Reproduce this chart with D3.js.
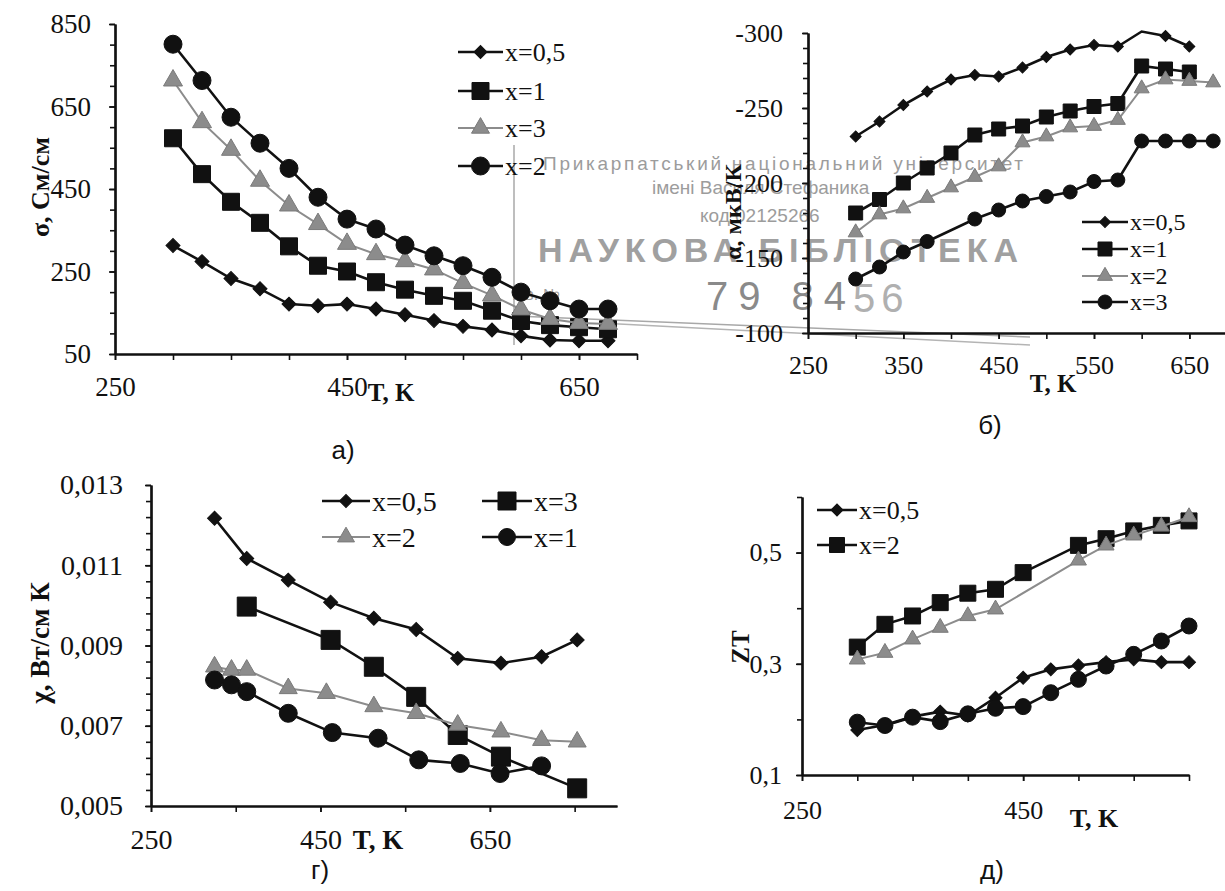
<!DOCTYPE html>
<html>
<head>
<meta charset="utf-8">
<script src="https://cdn.jsdelivr.net/npm/d3@7"></script>
<style>
	body { margin: 0; background: #fff; }
</style>
</head>
<body>
<script>
var w = 1225, h = 891;
var ink = "#111", grey = "#8c8c8c";
var serif = "'Liberation Serif', 'DejaVu Serif', serif";
var sans = "'Liberation Sans', 'DejaVu Sans', sans-serif";

// а) electrical conductivity, См/см
var Ta = [300, 325, 350, 375, 400, 425, 450, 475, 500, 525, 550, 575, 600, 625, 650, 675];
var sigmaX05 = [313, 274, 233, 208, 171, 167, 171, 159, 145, 131, 117, 108, 94, 84, 82, 82];
var sigmaX1 = [573, 486, 419, 368, 311, 264, 250, 224, 206, 191, 179, 155, 130, 120, 115, 110];
var sigmaX3 = [713, 612, 545, 470, 410, 365, 317, 292, 275, 255, 222, 192, 158, 135, 125, 123];
var sigmaX2 = [801, 713, 624, 561, 500, 430, 377, 353, 314, 288, 264, 236, 200, 179, 159, 159];
var aTicksY = [50, 250, 450, 650, 850];
var aTicksX = [250, 450, 650];

// б) Seebeck coefficient, мкВ/К
var Tb = [300, 325, 350, 375, 400, 425, 450, 475, 500, 525, 550, 575, 600, 625, 650];
var alphaX05 = [-231, -241, -252, -261, -269, -272, -271, -277, -284, -289, -292, -291, -301, -298, -291];
var alphaX1 = [-180, -189, -200, -210, -220, -232, -236, -238, -244, -248, -251, -253, -278, -276, -274];
var TbX2 = [300, 325, 350, 375, 400, 425, 450, 475, 500, 525, 550, 575, 600, 625, 650, 675];
var alphaX2 = [-167, -179, -183, -190, -197, -204, -211, -227, -231, -237, -238, -242, -263, -269, -268, -267];
var TbX3 = [300, 325, 350, 375, 425, 450, 475, 500, 525, 550, 575, 600, 625, 650, 675];
var alphaX3 = [-136, -144, -154, -161, -176, -182, -188, -191, -194, -201, -202, -228, -228, -228, -228];
var bTicksY = [-300, -250, -200, -150, -100];
var bTicksX = [250, 350, 450, 550, 650];

// г) thermal conductivity, Вт/см К
var TgX05 = [325, 363, 412, 462, 513, 563, 612, 663, 711, 753];
var chiX05 = [0.01217, 0.01117, 0.01063, 0.01008, 0.00968, 0.0094, 0.00868, 0.00856, 0.00872, 0.00914];
var TgX3 = [363, 462, 513, 563, 612, 663, 753];
var chiX3 = [0.00997, 0.00914, 0.00847, 0.00772, 0.00677, 0.00623, 0.00544];
var TgX2 = [325, 345, 363, 412, 457, 513, 563, 612, 663, 711, 753];
var chiX2 = [0.00847, 0.00839, 0.00839, 0.00793, 0.00781, 0.00748, 0.00731, 0.00702, 0.00685, 0.00664, 0.0066];
var TgX1 = [325, 345, 363, 412, 464, 518, 566, 615, 662, 711];
var chiX1 = [0.00814, 0.00802, 0.00785, 0.00731, 0.00683, 0.00669, 0.00615, 0.00606, 0.00581, 0.006];
var gTicksY = [0.005, 0.007, 0.009, 0.011, 0.013];
var gTicksX = [250, 450, 650];

// д) figure of merit ZT
var Td = [300, 325, 350, 375, 400, 425, 450, 475, 500, 525, 550, 575, 600];
var ztX05 = [0.181, 0.19, 0.205, 0.214, 0.207, 0.239, 0.275, 0.29, 0.297, 0.303, 0.308, 0.303, 0.303];
var ztCirc = [0.195, 0.189, 0.204, 0.196, 0.21, 0.22, 0.223, 0.248, 0.272, 0.296, 0.317, 0.341, 0.368];
var TdX2 = [300, 325, 350, 375, 400, 425, 450, 500, 525, 550, 575, 600];
var ztX2 = [0.33, 0.371, 0.386, 0.41, 0.427, 0.434, 0.464, 0.513, 0.525, 0.539, 0.549, 0.557];
var TdTri = [300, 325, 350, 375, 400, 425, 500, 525, 550, 575, 600];
var ztTri = [0.308, 0.32, 0.344, 0.365, 0.386, 0.398, 0.486, 0.513, 0.531, 0.547, 0.564];
var dTicksY = [0.1, 0.3, 0.5];
var dTicksX = [250, 450];

var svg = d3.select("body")
		.append("svg")
		.attr("width", w)
		.attr("height", h);

svg.append("rect")
	.attr("width", w)
	.attr("height", h)
	.attr("fill", "#fff");

function markerPath(shape, s) {
	if (shape == "diamond")
		return d3.symbol(d3.symbolSquare, s * s / 2)();
	if (shape == "square")
		return d3.symbol(d3.symbolSquare, s * s)();
	if (shape == "triangle")
		return d3.symbol(d3.symbolTriangle, Math.sqrt(3) / 4 * s * s)();
	return d3.symbol(d3.symbolCircle, Math.PI * s * s / 4)();
}

function series(g, x, y, T, v, shape, s, col) {
	var pts = T.map(function(t, i) { return [t, v[i]]; });
	var lw = col == grey ? 2 : 2.6;
	g.append("path")
		.datum(pts)
		.attr("fill", "none")
		.attr("stroke", col)
		.attr("stroke-width", lw)
		.attr("d", d3.line().x(function(d) { return x(d[0]); }).y(function(d) { return y(d[1]); }));
	var dom = y.domain();
	var lo = Math.min(dom[0], dom[1]), hi = Math.max(dom[0], dom[1]);
	g.selectAll(null)
		.data(pts.filter(function(d) { return d[1] >= lo && d[1] <= hi; }))
		.enter()
		.append("path")
		.attr("d", markerPath(shape, s))
		.attr("transform", function(d) {
			return "translate(" + x(d[0]) + "," + y(d[1]) + ")" + (shape == "diamond" ? " rotate(45)" : "");
		})
		.attr("fill", col)
		.attr("stroke", col == grey ? "#7a7a7a" : ink)
		.attr("stroke-width", 1);
}

function legendItem(g, x1, x2, yy, shape, s, col, label, fs) {
	g.append("line")
		.attr("x1", x1).attr("x2", x2)
		.attr("y1", yy).attr("y2", yy)
		.attr("stroke", col)
		.attr("stroke-width", col == grey ? 2 : 2.6);
	g.append("path")
		.attr("d", markerPath(shape, s))
		.attr("transform", "translate(" + (x1 + x2) / 2 + "," + yy + ")" + (shape == "diamond" ? " rotate(45)" : ""))
		.attr("fill", col)
		.attr("stroke", col == grey ? "#7a7a7a" : ink);
	g.append("text")
		.attr("x", x2 + 2)
		.attr("y", yy)
		.attr("dy", "0.35em")
		.style("font-family", serif)
		.attr("font-size", fs)
		.attr("fill", ink)
		.text(label);
}

function axes(g, x, y, labY, minorY, labX, minorX, fmt, padY, padX, fs) {
	var x0 = x.range()[0], y0 = y.range()[0];
	g.append("g")
		.attr("transform", "translate(" + x0 + ",0)")
		.call(d3.axisLeft(y).tickValues(minorY).tickSize(5).tickSizeOuter(0).tickFormat(""));
	g.append("g")
		.attr("transform", "translate(" + x0 + ",0)")
		.call(d3.axisLeft(y).tickValues(labY).tickSize(6).tickSizeOuter(0).tickPadding(padY).tickFormat(fmt));
	g.append("g")
		.attr("transform", "translate(0," + y0 + ")")
		.call(d3.axisBottom(x).tickValues(minorX).tickSize(6).tickSizeOuter(0).tickFormat(""));
	g.append("g")
		.attr("transform", "translate(0," + y0 + ")")
		.call(d3.axisBottom(x).tickValues(labX).tickSize(6).tickSizeOuter(0).tickPadding(padX).tickFormat(d3.format("d")));
	g.selectAll(".domain").attr("stroke", ink).attr("stroke-width", 2.2);
	g.selectAll(".tick line").attr("stroke", ink).attr("stroke-width", 1.6);
	g.selectAll(".tick text")
		.attr("fill", ink)
		.attr("font-size", fs)
		.style("font-family", serif);
}

function title(g, tx, ty, rot, label, fs, bold) {
	g.append("text")
		.attr("transform", "translate(" + tx + "," + ty + ")" + (rot ? " rotate(-90)" : ""))
		.attr("text-anchor", "middle")
		.attr("dy", "0.35em")
		.style("font-family", serif)
		.attr("font-size", fs)
		.attr("font-weight", bold ? "bold" : "normal")
		.attr("fill", ink)
		.text(label);
}

function caption(tx, ty, label) {
	svg.append("text")
		.attr("x", tx)
		.attr("y", ty)
		.attr("text-anchor", "middle")
		.attr("dy", "0.35em")
		.attr("font-size", 26)
		.style("font-family", sans)
		.attr("fill", ink)
		.text(label);
}

var plain = function(d) { return String(d); };
var comma3 = function(d) { return d3.format(".3f")(d).replace(".", ","); };
var comma1 = function(d) { return d3.format(".1f")(d).replace(".", ","); };

function drawA() {
	var g = svg.append("g");
	var x = d3.scaleLinear().domain([250, 700]).range([115, 637]);
	var y = d3.scaleLinear().domain([50, 850]).range([354, 24]);
	axes(g, x, y, aTicksY, d3.range(50, 851, 50), aTicksX, d3.range(250, 701, 50), plain, 18, 17, 27);
	series(g, x, y, Ta, sigmaX05, "diamond", 14, ink);
	series(g, x, y, Ta, sigmaX1, "square", 17, ink);
	series(g, x, y, Ta, sigmaX3, "triangle", 19, grey);
	series(g, x, y, Ta, sigmaX2, "circle", 18, ink);
	legendItem(g, 458, 503, 52, "diamond", 13, ink, "x=0,5", 26);
	legendItem(g, 458, 503, 91, "square", 17, ink, "x=1", 26);
	legendItem(g, 458, 503, 128, "triangle", 18, grey, "x=3", 26);
	legendItem(g, 458, 503, 166, "circle", 18, ink, "x=2", 26);
	title(g, 40, 187, true, "σ, См/см", 26, true);
	title(g, 391, 392, false, "T, K", 25, true);
	caption(343, 450, "а)");
}

function drawB() {
	var g = svg.append("g");
	var x = d3.scaleLinear().domain([250, 700]).range([808, 1237]);
	var y = d3.scaleLinear().domain([-100, -300]).range([333, 33]);
	axes(g, x, y, bTicksY, d3.range(-300, -99, 10), bTicksX, d3.range(250, 701, 50), plain, 19, 17, 26);
	series(g, x, y, Tb, alphaX05, "diamond", 11, ink);
	series(g, x, y, Tb, alphaX1, "square", 14, ink);
	series(g, x, y, TbX2, alphaX2, "triangle", 15, grey);
	series(g, x, y, TbX3, alphaX3, "circle", 14, ink);
	legendItem(g, 1082, 1128, 222, "diamond", 11, ink, "x=0,5", 24);
	legendItem(g, 1082, 1128, 249, "square", 14, ink, "x=1", 24);
	legendItem(g, 1082, 1128, 276, "triangle", 15, grey, "x=2", 24);
	legendItem(g, 1082, 1128, 302, "circle", 14, ink, "x=3", 24);
	title(g, 733, 212, true, "α, мкВ/К", 24, true);
	title(g, 1053, 383, false, "T, K", 25, true);
	caption(990, 425, "б)");
}

function drawG() {
	var g = svg.append("g");
	var x = d3.scaleLinear().domain([250, 800]).range([151, 617]);
	var y = d3.scaleLinear().domain([0.005, 0.013]).range([806, 485]);
	axes(g, x, y, gTicksY, d3.range(0, 21).map(function(i) { return 0.005 + i * 0.0004; }), gTicksX, d3.range(250, 801, 100), comma3, 22, 17, 28);
	series(g, x, y, TgX05, chiX05, "diamond", 14, ink);
	series(g, x, y, TgX3, chiX3, "square", 19, ink);
	series(g, x, y, TgX2, chiX2, "triangle", 18, grey);
	series(g, x, y, TgX1, chiX1, "circle", 18, ink);
	legendItem(g, 322, 370, 501, "diamond", 13, ink, "x=0,5", 28);
	legendItem(g, 482, 532, 501, "square", 18, ink, "x=3", 28);
	legendItem(g, 322, 370, 537, "triangle", 17, grey, "x=2", 28);
	legendItem(g, 482, 532, 537, "circle", 17, ink, "x=1", 28);
	title(g, 40, 643, true, "χ, Вт/см К", 27, true);
	title(g, 378, 840, false, "T, K", 27, true);
	caption(320, 870, "г)");
}

function drawD() {
	var g = svg.append("g");
	var x = d3.scaleLinear().domain([250, 600]).range([802, 1189]);
	var y = d3.scaleLinear().domain([0.1, 0.6]).range([775, 497]);
	axes(g, x, y, dTicksY, [0.1, 0.2, 0.3, 0.4, 0.5, 0.6], dTicksX, d3.range(250, 601, 50), comma1, 14, 20, 26);
	series(g, x, y, Td, ztX05, "diamond", 13, ink);
	series(g, x, y, TdX2, ztX2, "square", 16, ink);
	series(g, x, y, TdTri, ztTri, "triangle", 16, grey);
	series(g, x, y, Td, ztCirc, "circle", 16, ink);
	legendItem(g, 817, 857, 510, "diamond", 12, ink, "x=0,5", 26);
	legendItem(g, 817, 857, 545, "square", 15, ink, "x=2", 26);
	title(g, 740, 647, true, "ZT", 25, true);
	title(g, 1094, 818, false, "T, K", 26, true);
	caption(992, 870, "д)");
}

// library stamp laid over the scan
function stamp() {
	var g = svg.append("g").attr("fill", "#9c9c9c").style("font-family", sans);
	g.append("line").attr("x1", 514).attr("x2", 514).attr("y1", 145).attr("y2", 345)
		.attr("stroke", "#a8a8a8").attr("stroke-width", 1.5);
	g.append("line").attr("x1", 515).attr("x2", 1030).attr("y1", 316).attr("y2", 337)
		.attr("stroke", "#a8a8a8").attr("stroke-width", 1.5);
	g.append("line").attr("x1", 600).attr("x2", 1030).attr("y1", 323).attr("y2", 345)
		.attr("stroke", "#b4b4b4").attr("stroke-width", 1.5);
	g.append("text").attr("x", 543).attr("y", 170).attr("font-size", 19).attr("textLength", 480)
		.text("Прикарпатський національний університет");
	g.append("text").attr("x", 652).attr("y", 194).attr("font-size", 19)
		.text("імені Василя Стефаника");
	g.append("text").attr("x", 700).attr("y", 222).attr("font-size", 19)
		.text("код 02125266");
	g.append("text").attr("x", 538).attr("y", 262).attr("font-size", 34).attr("font-weight", "bold")
		.attr("textLength", 480).attr("fill", "#a0a0a0")
		.text("НАУКОВА БІБЛІОТЕКА");
	g.append("text").attr("x", 512).attr("y", 300).attr("font-size", 16)
		.text("Інв. №");
	g.append("text").attr("x", 706).attr("y", 310).attr("font-size", 40).attr("fill", "#8a8a8a")
		.attr("letter-spacing", 10)
		.text("79 84");
	g.append("text").attr("x", 853).attr("y", 312).attr("font-size", 40).attr("fill", "#b0b0b0")
		.attr("letter-spacing", 6)
		.text("56");
}

stamp();
drawA();
drawB();
drawG();
drawD();
</script>
</body>
</html>
